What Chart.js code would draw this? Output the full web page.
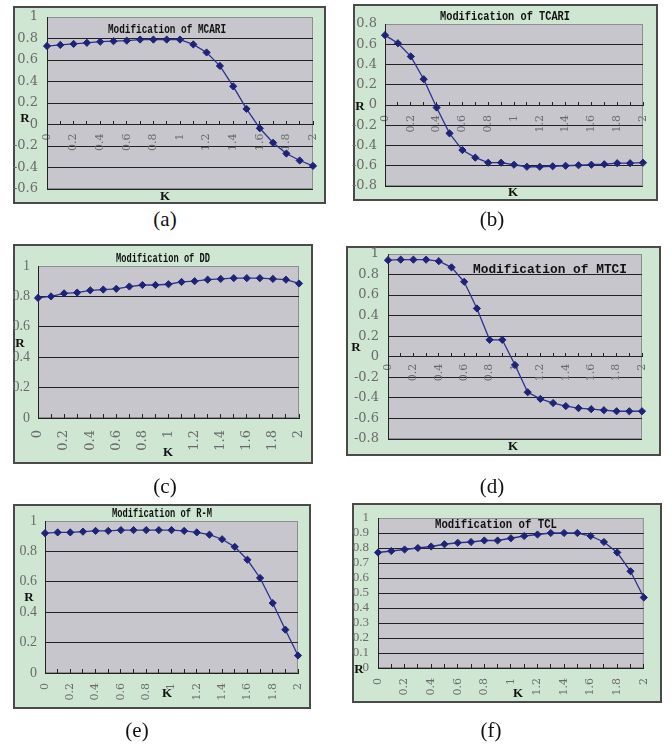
<!DOCTYPE html>
<html>
<head>
<meta charset="utf-8">
<script src="https://cdn.jsdelivr.net/npm/chart.js@4.4.0/dist/chart.umd.min.js"></script>
<style>
  html, body { margin: 0; padding: 0; background: #fff; }
  #page { position: relative; width: 671px; height: 747px; overflow: hidden; }
  .panel { position: absolute; box-sizing: border-box; background: #cfe6d3; border: 2px solid #4a4a4a; }
  .cap { position: absolute; font-family: "Liberation Serif", "Times New Roman", serif; font-size: 21px; line-height: 21px; color: #111; transform: translateX(-50%); white-space: nowrap; }
  canvas { position: absolute; left: 0; top: 0; }
</style>
</head>
<body>
<div id="page"></div>
<script>
// K values (x axis)
const K = [0, 0.1, 0.2, 0.3, 0.4, 0.5, 0.6, 0.7, 0.8, 0.9, 1, 1.1, 1.2, 1.3, 1.4, 1.5, 1.6, 1.7, 1.8, 1.9, 2];

// R values
const mcari = [0.73, 0.74, 0.75, 0.76, 0.77, 0.775, 0.78, 0.79, 0.79, 0.79, 0.79, 0.745, 0.67, 0.545, 0.355, 0.145, -0.035, -0.17, -0.27, -0.335, -0.385];
const tcari = [0.69, 0.61, 0.48, 0.255, -0.025, -0.28, -0.445, -0.52, -0.57, -0.57, -0.59, -0.61, -0.61, -0.605, -0.6, -0.595, -0.59, -0.585, -0.575, -0.575, -0.57];
const dd = [0.79, 0.80, 0.82, 0.825, 0.84, 0.845, 0.85, 0.865, 0.875, 0.875, 0.88, 0.895, 0.90, 0.91, 0.915, 0.92, 0.92, 0.92, 0.915, 0.91, 0.885];
const mtci = [0.94, 0.945, 0.945, 0.945, 0.93, 0.87, 0.73, 0.47, 0.165, 0.165, -0.08, -0.345, -0.41, -0.45, -0.48, -0.5, -0.51, -0.52, -0.53, -0.53, -0.53];
const rm = [0.92, 0.925, 0.925, 0.93, 0.935, 0.935, 0.94, 0.94, 0.94, 0.94, 0.94, 0.935, 0.925, 0.91, 0.88, 0.83, 0.745, 0.625, 0.46, 0.285, 0.115];
const tcl = [0.77, 0.78, 0.79, 0.80, 0.81, 0.825, 0.835, 0.84, 0.85, 0.85, 0.865, 0.88, 0.89, 0.9, 0.9, 0.9, 0.88, 0.84, 0.77, 0.645, 0.47];

// y tick labels per panel
const ticksA = [-0.6, -0.4, -0.2, 0, 0.2, 0.4, 0.6, 0.8, 1];
const ticksB = [-0.8, -0.6, -0.4, -0.2, 0, 0.2, 0.4, 0.6, 0.8];
const ticksC = [0, 0.2, 0.4, 0.6, 0.8, 1];
const ticksD = [-0.8, -0.6, -0.4, -0.2, 0, 0.2, 0.4, 0.6, 0.8, 1];
const ticksE = [0, 0.2, 0.4, 0.6, 0.8, 1];
const ticksF = [0, 0.1, 0.2, 0.3, 0.4, 0.5, 0.6, 0.7, 0.8, 0.9, 1];

const titles = ['Modification of MCARI', 'Modification of TCARI', 'Modification of DD',
                'Modification of MTCI', 'Modification of R-M', 'Modification of TCL'];
const captions = ['(a)', '(b)', '(c)', '(d)', '(e)', '(f)'];

// layout of each panel (page pixels)
const panels = [
  { data: mcari, yt: ticksA, box: [13, 6, 313, 198], area: [47, 17, 313, 189], at0: true,
    yFont: ['DejaVu Serif', 13], xFont: ['DejaVu Serif', 11], yPad: 9, xPad: 13,
    t: [167, 30, 118, 13], r: [25, 119], k: [165, 197], cap: [165, 227] },
  { data: tcari, yt: ticksB, box: [353, 4, 305, 197], area: [385, 24, 643, 186], at0: true,
    yFont: ['DejaVu Serif', 13], xFont: ['DejaVu Serif', 11], yPad: 8, xPad: 14,
    t: [505, 17, 130, 13], r: [360, 107], k: [513, 193], cap: [492, 227] },
  { data: dd, yt: ticksC, box: [13, 244, 300, 220], area: [38, 266, 299, 418], at0: false,
    yFont: ['Liberation Serif', 14], xFont: ['DejaVu Serif', 13], yPad: 8, xPad: 16,
    t: [163, 259, 94, 13], r: [20, 344], k: [168, 453], cap: [165, 494] },
  { data: mtci, yt: ticksD, box: [346, 246, 315, 210], area: [388, 254, 642, 439], at0: true,
    yFont: ['DejaVu Serif', 13], xFont: ['DejaVu Serif', 11], yPad: 9, xPad: 11,
    t: [550, 270, 154, 13], r: [356, 348], k: [513, 447], cap: [492, 494] },
  { data: rm, yt: ticksE, box: [13, 504, 298, 205], area: [45, 521, 298, 673], at0: false,
    yFont: ['Liberation Serif', 14], xFont: ['DejaVu Serif', 11], yPad: 8, xPad: 14,
    t: [162, 514, 100, 12], r: [29, 598], k: [167, 694], cap: [137, 738] },
  { data: tcl, yt: ticksF, box: [352, 503, 310, 200], area: [378, 518, 658, 668], at0: false,
    yFont: ['Liberation Serif', 13], xFont: ['DejaVu Serif', 11], yPad: 9, xPad: 14,
    t: [496, 525, 122, 13], r: [359, 670], k: [518, 694], cap: [491, 738] }
];

const W = 671, H = 747;
const X_BAND = 50;   // room reserved under the plot for bottom x labels
const page = document.getElementById('page');

// plot background + extra texts
const panelText = {
  id: 'panelText',
  beforeDraw(chart, args, o) {
    const { ctx, chartArea: a } = chart;
    ctx.save();
    ctx.fillStyle = '#c6c6cc';
    ctx.fillRect(a.left, a.top, a.width, a.height);
    ctx.strokeStyle = '#8e8e92';
    ctx.lineWidth = 1;
    ctx.strokeRect(a.left + 0.5, a.top + 0.5, a.width - 1, a.height - 1);
    ctx.restore();
  },
  afterDraw(chart, args, o) {
    const ctx = chart.ctx;
    ctx.save();
    ctx.fillStyle = '#111';
    ctx.textAlign = 'center';
    ctx.textBaseline = 'middle';
    ctx.font = 'bold ' + o.t[3] + 'px "Liberation Mono", monospace';
    ctx.fillText(o.title, o.t[0], o.t[1], o.t[2]);
    ctx.font = 'bold 13px "Liberation Serif", serif';
    ctx.fillText('R', o.r[0], o.r[1]);
    ctx.fillText('K', o.k[0], o.k[1]);
    ctx.restore();
  }
};

panels.forEach((p, i) => {
  const box = document.createElement('div');
  box.className = 'panel';
  box.style.left = p.box[0] + 'px';
  box.style.top = p.box[1] + 'px';
  box.style.width = p.box[2] + 'px';
  box.style.height = p.box[3] + 'px';
  page.appendChild(box);

  const cap = document.createElement('div');
  cap.className = 'cap';
  cap.textContent = captions[i];
  cap.style.left = p.cap[0] + 'px';
  cap.style.top = (p.cap[1] - 17.6) + 'px';
  page.appendChild(cap);

  const cv = document.createElement('canvas');
  cv.width = W; cv.height = H;
  page.appendChild(cv);

  const yMin = p.yt[0], yMax = p.yt[p.yt.length - 1];
  const xBand = p.at0 ? 0 : X_BAND;

  new Chart(cv.getContext('2d'), {
    type: 'line',
    data: {
      labels: K.map(String),
      datasets: [{
        data: p.data,
        borderColor: '#2e3192',
        borderWidth: 1.3,
        backgroundColor: '#1f2378',
        pointBackgroundColor: '#1f2378',
        pointBorderColor: '#1f2378',
        pointStyle: 'rectRot',
        pointRadius: 3.6,
        pointBorderWidth: 1,
        tension: 0,
        fill: false,
        clip: false
      }]
    },
    options: {
      responsive: false,
      animation: false,
      events: [],
      layout: { padding: { left: 0, top: p.area[1], right: W - p.area[2], bottom: H - p.area[3] - xBand } },
      plugins: {
        legend: { display: false },
        tooltip: { enabled: false },
        panelText: { title: titles[i], t: p.t, r: p.r, k: p.k }
      },
      scales: {
        x: {
          type: 'category',
          position: p.at0 ? { y: 0 } : 'bottom',
          offset: false,
          afterFit: s => { s.height = xBand; },
          grid: { display: true, drawOnChartArea: false, drawTicks: true, tickLength: -4, color: '#222', lineWidth: 1 },
          border: { display: true, color: '#222', width: 1 },
          ticks: {
            autoSkip: false, minRotation: 90, maxRotation: 90, padding: p.xPad,
            color: '#6a6a6a',
            font: { family: p.xFont[0], size: p.xFont[1] },
            callback: (v, idx) => idx % 2 === 0 ? String(K[idx]) : ''
          }
        },
        y: {
          type: 'linear',
          min: yMin, max: yMax,
          afterFit: s => { s.width = p.area[0]; },
          afterBuildTicks: s => { s.ticks = p.yt.map(v => ({ value: v })); },
          grid: {
            drawTicks: false,
            color: c => (c.tick && c.tick.value === yMax) ? '#8e8e92' : '#222',
            lineWidth: 1
          },
          border: { display: true, color: '#222', width: 1 },
          ticks: {
            autoSkip: false,
            padding: p.yPad,
            color: '#6a6a6a',
            font: { family: p.yFont[0], size: p.yFont[1] },
            callback: v => String(+v.toFixed(1))
          }
        }
      }
    },
    plugins: [panelText]
  });
});
</script>
</body>
</html>
